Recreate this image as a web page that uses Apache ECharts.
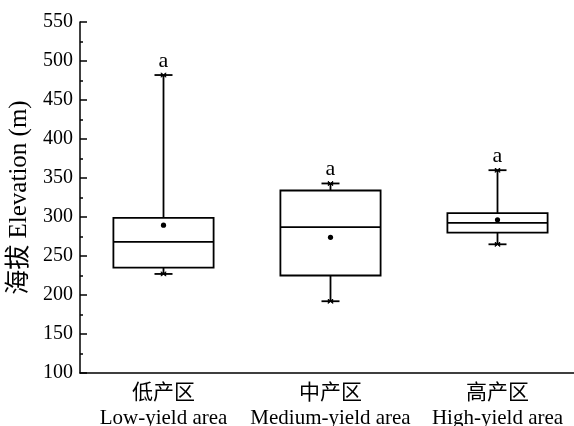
<!DOCTYPE html>
<html>
<head>
<meta charset="utf-8">
<script src="https://cdn.jsdelivr.net/npm/echarts@6/dist/echarts.min.js"></script>
<style>html,body{margin:0;padding:0;background:#fff;}#c{width:574px;height:426px;}</style>
</head>
<body>
<div id="c"></div>
<script>
var categoriesZh = ['低产区', '中产区', '高产区'];
var categoriesEn = ['Low-yield area', 'Medium-yield area', 'High-yield area'];
var minVals = [227, 192, 265];
var q1Vals = [235, 225, 280];
var medianVals = [268, 287, 292.5];
var q3Vals = [299, 334, 305];
var maxVals = [482, 343, 360];
var meanVals = [289.5, 274, 296.5];
var letters = ['a', 'a', 'a'];
var yTicks = [100, 150, 200, 250, 300, 350, 400, 450, 500, 550];

var FONT = "'Liberation Serif', 'Noto Sans CJK SC', serif";
var categories = categoriesZh.map(function (z, i) { return z + '\n' + categoriesEn[i]; });
var rows = categories.map(function (c, i) {
  return [i, minVals[i], q1Vals[i], medianVals[i], q3Vals[i], maxVals[i], meanVals[i]];
});

var chart = echarts.init(document.getElementById('c'), null, { renderer: 'canvas' });

function renderItem(params, api) {
  var x = api.value(0);
  var pMin = api.coord([x, api.value(1)]);
  var pQ1 = api.coord([x, api.value(2)]);
  var pMed = api.coord([x, api.value(3)]);
  var pQ3 = api.coord([x, api.value(4)]);
  var pMax = api.coord([x, api.value(5)]);
  var pMean = api.coord([x, api.value(6)]);
  var cx = pMin[0];
  var bw = api.size([1, 0])[0] * 0.6;
  var cap = 18;
  var m = 2.2;
  var ls = { stroke: '#000', lineWidth: 1.8, fill: null };
  var children = [
    { type: 'line', shape: { x1: cx, y1: pMax[1], x2: cx, y2: pQ3[1] }, style: ls },
    { type: 'line', shape: { x1: cx, y1: pQ1[1], x2: cx, y2: pMin[1] }, style: ls },
    { type: 'line', shape: { x1: cx - cap / 2, y1: pMax[1], x2: cx + cap / 2, y2: pMax[1] }, style: ls },
    { type: 'line', shape: { x1: cx - cap / 2, y1: pMin[1], x2: cx + cap / 2, y2: pMin[1] }, style: ls },
    { type: 'rect', shape: { x: cx - bw / 2, y: pQ3[1], width: bw, height: pQ1[1] - pQ3[1] }, style: { stroke: '#000', lineWidth: 1.8, fill: 'none' } },
    { type: 'line', shape: { x1: cx - bw / 2, y1: pMed[1], x2: cx + bw / 2, y2: pMed[1] }, style: ls },
    { type: 'circle', shape: { cx: cx, cy: pMean[1], r: 2.6 }, style: { fill: '#000' } },
    { type: 'text', style: { text: letters[params.dataIndex], x: cx, y: pMax[1] - 14, align: 'center', verticalAlign: 'middle', font: "22px " + FONT, fill: '#000' } }
  ];
  [pMax, pMin].forEach(function (p) {
    children.push({ type: 'polygon', shape: { points: [[p[0] - m, p[1] - m], [p[0] + m, p[1] + m], [p[0] + m, p[1] - m], [p[0] - m, p[1] + m]] }, style: { fill: '#000', stroke: '#000', lineWidth: 1 } });
  });
  return { type: 'group', children: children };
}

chart.setOption({
  animation: false,
  backgroundColor: '#fff',
  grid: { left: 80, right: -7, top: 22, bottom: 53, containLabel: false, outerBoundsMode: 'none' },
  xAxis: {
    type: 'category',
    data: categories,
    boundaryGap: true,
    axisLine: { lineStyle: { color: '#000', width: 1.5 } },
    axisTick: { inside: true, alignWithLabel: true, length: 8, lineStyle: { color: '#000', width: 1.5 } },
    axisLabel: { color: '#000', fontFamily: FONT, fontSize: 21, lineHeight: 25, margin: 8, interval: 0 },
    splitLine: { show: false }
  },
  yAxis: {
    type: 'value',
    min: 100, max: 550, interval: 50,
    name: '海拔 Elevation (m)',
    nameLocation: 'middle',
    nameGap: 45,
    nameTextStyle: { color: '#000', fontFamily: FONT, fontSize: 25 },
    axisLine: { show: true, lineStyle: { color: '#000', width: 1.5 } },
    axisTick: { show: true, inside: true, length: 7, lineStyle: { color: '#000', width: 1.5 } },
    minorTick: { show: true, splitNumber: 2, length: 3, lineStyle: { color: '#000', width: 1.5 } },
    axisLabel: {
      color: '#000', fontFamily: FONT, fontSize: 20, margin: 7,
      formatter: function (v) { return yTicks.indexOf(v) >= 0 ? String(v) : ''; }
    },
    splitLine: { show: false }
  },
  series: [{
    type: 'custom',
    renderItem: renderItem,
    encode: { x: 0, y: [1, 2, 3, 4, 5, 6] },
    data: rows,
    clip: false
  }]
});
</script>
</body>
</html>
